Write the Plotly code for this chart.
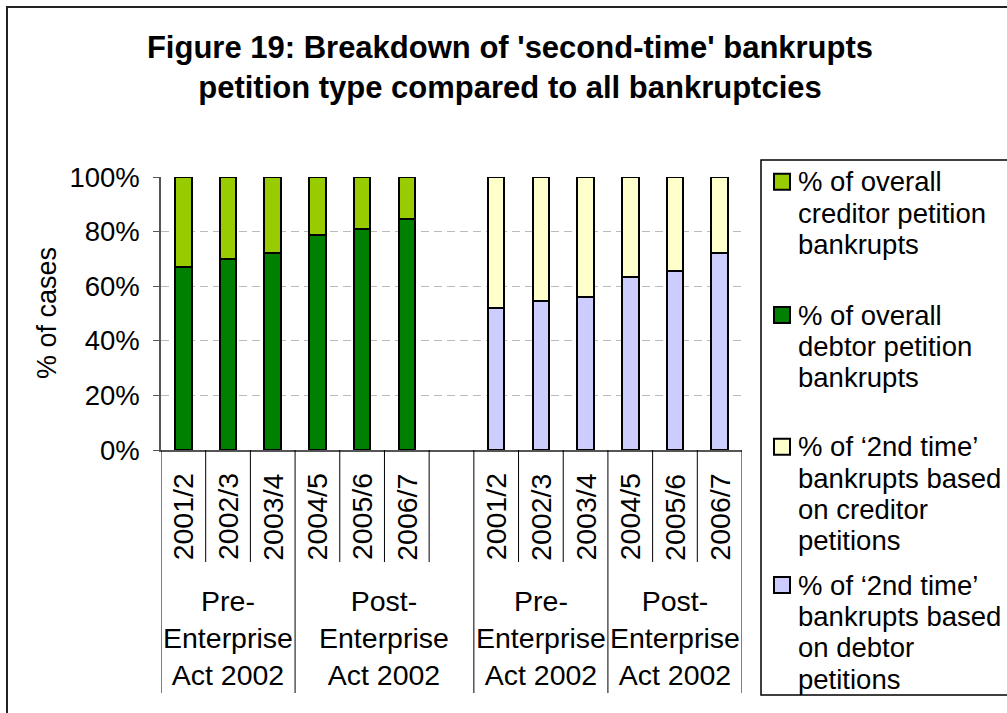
import plotly.graph_objects as go

# ---- data -------------------------------------------------------------
YEARS = ["2001/2", "2002/3", "2003/4", "2004/5", "2005/6", "2006/7"]

# all bankruptcies (%)
ALL_DEBTOR = [67.1, 69.9, 72.2, 78.8, 81.1, 84.8]
ALL_CREDITOR = [32.9, 30.1, 27.8, 21.2, 18.9, 15.2]

# 'second-time' bankrupts (%)
SECOND_DEBTOR = [52.1, 54.4, 56.0, 63.4, 65.7, 72.0]
SECOND_CREDITOR = [47.9, 45.6, 44.0, 36.6, 34.3, 28.0]

GROUP_LABELS = ["Pre-<br>Enterprise<br>Act 2002", "Post-<br>Enterprise<br>Act 2002"]
Y_TICKS = [0, 20, 40, 60, 80, 100]
Y_TICK_TEXT = ["0%", "20%", "40%", "60%", "80%", "100%"]

LEGEND_NAMES = [
    "% of overall\ncreditor petition\nbankrupts",
    "% of overall\ndebtor petition\nbankrupts",
    "% of \u20182nd time\u2019\nbankrupts based\non creditor\npetitions",
    "% of \u20182nd time\u2019\nbankrupts based\non debtor\npetitions",
]

TITLE = ("<b>Figure 19: Breakdown of 'second-time' bankrupts<br>"
         "petition type compared to all bankruptcies</b>")

# ---- styling ----------------------------------------------------------
FONT = "Arial, 'Liberation Sans', sans-serif"
C_LIGHT_GREEN = "#99CC00"
C_DARK_GREEN = "#008000"
C_YELLOW = "#FFFFCC"
C_LAVENDER = "#CCCCFF"
AXIS_COLOR = "#555555"

W, H = 1007, 713
PL, PR, PT, PB = 161, 742, 177, 450  # plot area in pixels


def xp(px):
    return (px - PL) / (PR - PL)


def yp(py):
    return (PB - py) / (PB - PT)


n = len(YEARS)
x_left = list(range(n))
x_right = [i + n + 1 for i in range(n)]
n_slots = 2 * n + 1

BAR_W = 0.37
bar_line = dict(color="black", width=2)

fig = go.Figure()
fig.add_bar(x=x_left, y=ALL_DEBTOR, width=BAR_W, name=LEGEND_NAMES[1],
            marker=dict(color=C_DARK_GREEN, line=bar_line))
fig.add_bar(x=x_left, y=ALL_CREDITOR, width=BAR_W, name=LEGEND_NAMES[0],
            marker=dict(color=C_LIGHT_GREEN, line=bar_line))
fig.add_bar(x=x_right, y=SECOND_DEBTOR, width=BAR_W, name=LEGEND_NAMES[3],
            marker=dict(color=C_LAVENDER, line=bar_line))
fig.add_bar(x=x_right, y=SECOND_CREDITOR, width=BAR_W, name=LEGEND_NAMES[2],
            marker=dict(color=C_YELLOW, line=bar_line))

shapes = []
annotations = []

# category separators below the x axis: long ones between groups, short ones between years
group_edges = {-0.5, 2.5, n + 0.5, n + 3.5, n_slots - 0.5}
for k in range(n_slots + 1):
    edge = k - 0.5
    bottom = 693 if edge in group_edges else 562
    shapes.append(dict(type="line", xref="x", yref="paper", x0=edge, x1=edge,
                       y0=0, y1=yp(bottom), line=dict(color="black", width=1)))

# year labels (rotated)
for xs in (x_left, x_right):
    for xi, label in zip(xs, YEARS):
        annotations.append(dict(x=xi, y=yp(517), xref="x", yref="paper", text=label,
                                textangle=-90, showarrow=False, xanchor="center",
                                yanchor="middle", font=dict(size=28.5, color="black", family=FONT)))

# group labels
group_centres = [1, (3 + n) / 2, n + 2, n + 5]
for gc, gl in zip(group_centres, GROUP_LABELS * 2):
    annotations.append(dict(x=gc, y=yp(638), xref="x", yref="paper", text=gl,
                            showarrow=False, xanchor="center", yanchor="middle",
                            font=dict(size=28.5, color="black", family=FONT)))

# y axis title
annotations.append(dict(x=xp(47), y=yp(313), xref="paper", yref="paper", text="% of cases",
                        textangle=-90, showarrow=False, xanchor="center", yanchor="middle",
                        font=dict(size=27, color="black", family=FONT)))

# outer chart frame
shapes.append(dict(type="rect", xref="paper", yref="paper", x0=xp(7), x1=xp(1015),
                   y0=yp(720), y1=yp(7), line=dict(color="#222222", width=2)))

# legend box
shapes.append(dict(type="rect", xref="paper", yref="paper", x0=xp(761), x1=xp(1015),
                   y0=yp(695), y1=yp(160), line=dict(color="black", width=1.5),
                   fillcolor="white"))
legend_colors = [C_LIGHT_GREEN, C_DARK_GREEN, C_YELLOW, C_LAVENDER]
first_line_y = [181.7, 315, 446.7, 585]
LINE_GAP = 31.4
for name, col, y0 in zip(LEGEND_NAMES, legend_colors, first_line_y):
    shapes.append(dict(type="rect", xref="paper", yref="paper",
                       x0=xp(774), x1=xp(790), y0=yp(y0 + 8), y1=yp(y0 - 8),
                       fillcolor=col, line=dict(color="black", width=2)))
    for j, line in enumerate(name.split("\n")):
        annotations.append(dict(x=xp(796), y=yp(y0 + j * LINE_GAP), xref="paper", yref="paper",
                                text=line, showarrow=False, xanchor="left", yanchor="middle",
                                font=dict(size=27.5, color="black", family=FONT)))

fig.update_layout(
    barmode="stack",
    width=W, height=H,
    margin=dict(l=PL, r=W - PR, t=PT, b=H - PB, pad=0),
    paper_bgcolor="white", plot_bgcolor="white",
    showlegend=False,
    font=dict(family=FONT, color="black"),
    title=dict(text=TITLE, x=510 / W, xanchor="center", y=1 - 58 / H, yanchor="top",
               xref="container", yref="container",
               font=dict(size=31, color="black", family=FONT)),
    xaxis=dict(range=[-0.5, n_slots - 0.5], showgrid=False, zeroline=False,
               showticklabels=False, ticks="", showline=True, linecolor=AXIS_COLOR,
               linewidth=1.5, fixedrange=True),
    yaxis=dict(range=[0, 100], tickvals=Y_TICKS, ticktext=Y_TICK_TEXT, showgrid=True,
               gridcolor="#BBBBBB", griddash="8px,5px", gridwidth=1, zeroline=False,
               showline=True, linecolor=AXIS_COLOR, linewidth=1.5, ticks="outside",
               ticklen=6, tickcolor=AXIS_COLOR, ticklabelstandoff=8,
               tickfont=dict(size=27.5, color="black", family=FONT)),
    shapes=shapes,
    annotations=annotations,
)

fig.write_html("out.html")
